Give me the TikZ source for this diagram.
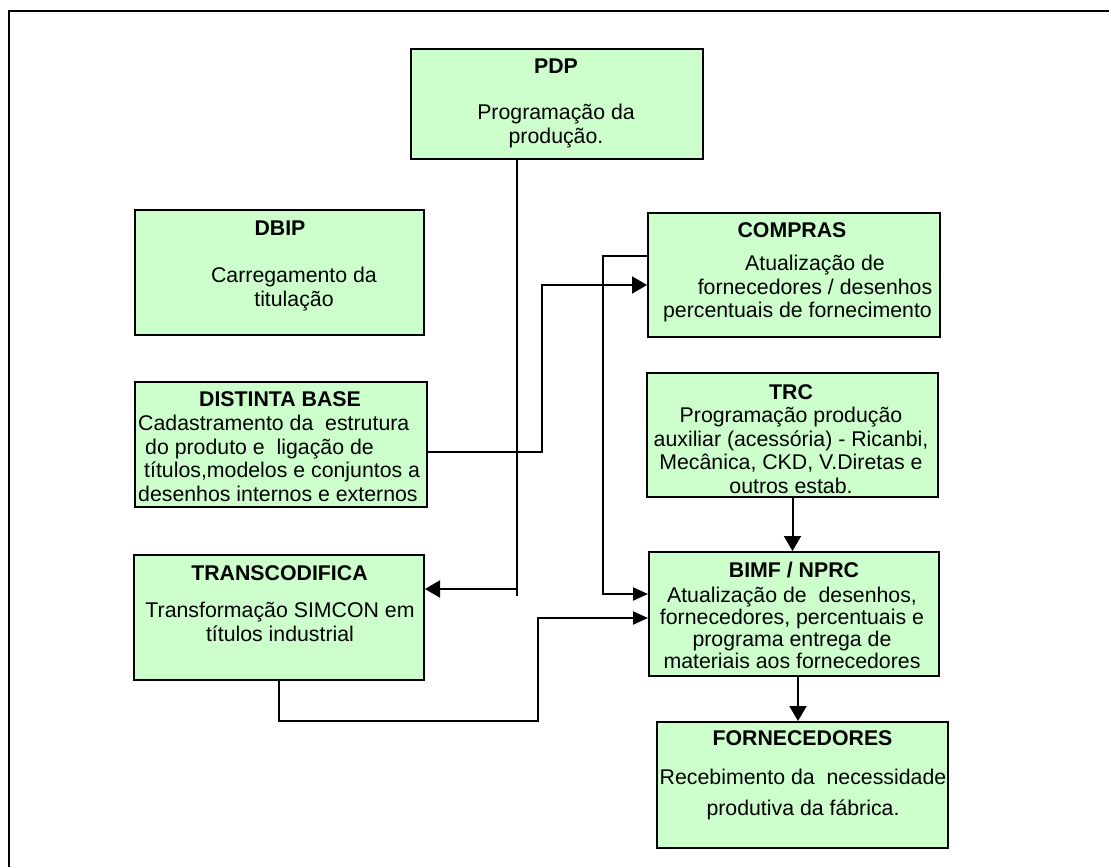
\documentclass[tikz,border=0pt]{standalone}
\usepackage{fontspec}
\setmainfont{Liberation Sans}
\usetikzlibrary{arrows.meta,calc}
\definecolor{boxgreen}{HTML}{CCFFCC}
\tikzset{
  box/.style={draw=black, line width=2pt, fill=boxgreen, minimum width=290pt,
              minimum height=125pt, inner sep=0pt},
  ttl/.style={font=\fontsize{21.3}{23.8}\selectfont\bfseries, inner sep=0pt, anchor=base},
  txt/.style={font=\fontsize{21.3}{23.8}\selectfont, align=center, inner sep=0pt, anchor=north},
  link/.style={line width=2pt, draw=black},
  arr/.style={link, -{Triangle[length=15pt,width=17pt]}},
  arrs/.style={link, -{Triangle[length=15pt,width=13pt]}},
}
\begin{document}
\begin{tikzpicture}[x=1pt,y=-1pt]
\useasboundingbox (0,0) rectangle (1109,867);

% page frame (top and left edges)
\draw[line width=2pt] (9,867) -- (9,11) -- (1109,11);

% boxes
\node[box, minimum width=292pt, minimum height=110pt] (pdp) at (557,104) {};
\node[box, minimum width=289pt] (dbip) at (279.5,272.5) {};
\node[box, minimum width=292pt, minimum height=124pt] (compras) at (794,275) {};
\node[box, minimum width=292pt] (distinta) at (281,444.5) {};
\node[box, minimum width=291pt, minimum height=124pt] (trc) at (792.5,435) {};
\node[box] (transc) at (279,617.5) {};
\node[box, minimum height=124pt] (bimf) at (794,614) {};
\node[box, minimum width=291pt, minimum height=126pt] (forn) at (802.5,785) {};

% texts
\node[ttl] (pdp-t) at (556,73.5) {PDP};
\node[txt] (pdp-b) at (556,102.4) {\strut Programação da\\produção.};

\node[ttl] (dbip-t) at (280,235.5) {DBIP};
\node[txt] (dbip-b) at (294,265.4) {\strut Carregamento da\\titulação};

\node[ttl] (compras-t) at (792,237.5) {COMPRAS};
\node[txt] (compras-b) at (815,253.4) {\strut Atualização de\\fornecedores / desenhos\\\hspace*{-35pt}percentuais de fornecimento};

\node[ttl] (distinta-t) at (280,406.5) {DISTINTA BASE};
\node[txt, align=left, anchor=north west] (distinta-b) at (138,413.4)
  {\strut Cadastramento da~ estrutura\\\hspace*{7pt}do produto e~ ligação de\\\hspace*{6pt}títulos,modelos e conjuntos a\\desenhos internos e externos};

\node[ttl] (trc-t) at (791,399.5) {TRC};
\node[txt] (trc-b) at (791,405.4) {\strut Programação produção\\auxiliar (acessória) - Ricanbi,\\Mecânica, CKD, V.Diretas e\\outros estab.};

\node[ttl] (bimf-t) at (794,577.5) {BIMF / NPRC};
\node[txt, font=\fontsize{21.3}{21.7}\selectfont] (bimf-b) at (792,586.4)
  {\strut Atualização de~ desenhos,\\fornecedores, percentuais e\\programa entrega de\\materiais aos fornecedores};

\node[ttl] (transc-t) at (279.5,580.5) {TRANSCODIFICA};
\node[txt] (transc-b) at (280,600.4) {\strut Transformação SIMCON em\\títulos industrial};

\node[ttl] (forn-t) at (802.5,745.5) {FORNECEDORES};
\node[txt] (forn-b) at (803,767.4) {\strut Recebimento da~ necessidade\\[7pt]produtiva da fábrica.};

% connectors
\coordinate (pdpjoin) at (517,589);
\draw[link] (pdp.south -| pdpjoin) -- (pdpjoin) -- ++(0,7);
\draw[arr] (pdpjoin) -- (pdpjoin -| transc.east);

\coordinate (dbend) at (542,285);
\draw[arr] ($(distinta.east)+(0,7.5)$) -| (dbend) -- (dbend -| compras.west);

\coordinate (cbend) at (603,256);
\draw[arrs] (cbend -| compras.west) -- (cbend) |- ($(bimf.west)+(0,-20)$);

\draw[arr] (trc.south) -- (trc.south |- bimf.north);

\coordinate (tbend) at (538,721);
\draw[arrs] (transc.south) |- (tbend) |- ($(bimf.west)+(0,4)$);

\coordinate (bdrop) at ($(bimf.south)+(4,0)$);
\draw[arr] (bdrop) -- (bdrop |- forn.north);
\end{tikzpicture}
\end{document}
